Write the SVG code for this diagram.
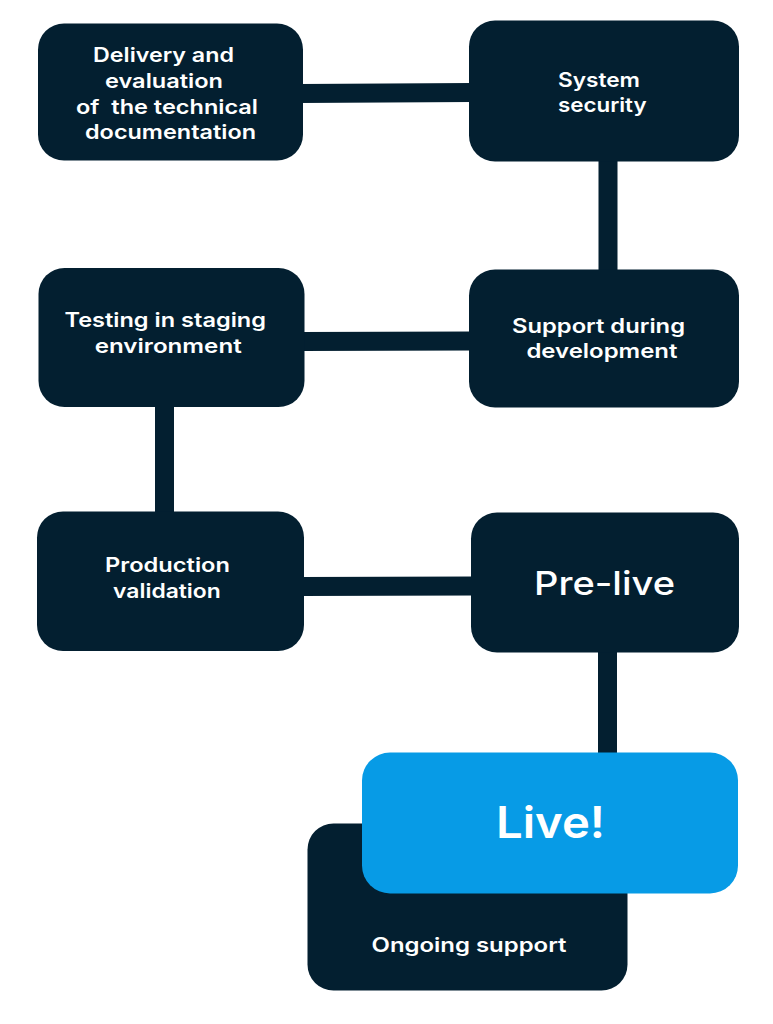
<svg xmlns="http://www.w3.org/2000/svg" width="773" height="1024" viewBox="0 0 773 1024">
  <style>
    .box { fill: #031f30; }
    .live { fill: #079be6; }
    .conn { stroke: #031f30; stroke-width: 19; fill: none; }
    .t { fill: #ffffff; font-family: Inter, "Open Sans", "Liberation Sans", sans-serif; font-weight: 600; font-size: 20px; text-anchor: middle; }
    .big { font-size: 33px; font-weight: 500; }
    .huge { font-size: 44px; font-weight: 600; }
  </style>
  <rect width="773" height="1024" fill="#ffffff"/>
  <g id="connectors">
    <line class="conn" x1="300" y1="93.5" x2="472" y2="92.5"/>
    <line class="conn" x1="608" y1="158" x2="608" y2="273"/>
    <line class="conn" x1="301" y1="341.5" x2="472" y2="341"/>
    <line class="conn" x1="164.5" y1="403" x2="164.5" y2="515"/>
    <line class="conn" x1="301" y1="586.5" x2="474" y2="586"/>
    <line class="conn" x1="607.5" y1="649" x2="607.5" y2="756"/>
  </g>
  <g id="delivery">
    <rect class="box" x="38" y="23.5" width="265" height="137" rx="26"/>
    <text class="t" x="163.5" y="61.5" textLength="141" lengthAdjust="spacingAndGlyphs">Delivery and</text>
    <text class="t" x="164" y="87.5" textLength="118" lengthAdjust="spacingAndGlyphs">evaluation</text>
    <text class="t" x="167" y="113.5" textLength="182" lengthAdjust="spacingAndGlyphs" xml:space="preserve">of  the technical</text>
    <text class="t" x="170.5" y="139" textLength="171" lengthAdjust="spacingAndGlyphs">documentation</text>
  </g>
  <g id="system-security">
    <rect class="box" x="469" y="20.5" width="270" height="141" rx="26"/>
    <text class="t" x="599" y="87.3" textLength="82" lengthAdjust="spacingAndGlyphs">System</text>
    <text class="t" x="602.3" y="111.7" textLength="88.7" lengthAdjust="spacingAndGlyphs">security</text>
  </g>
  <g id="testing">
    <rect class="box" x="38.5" y="268" width="266" height="139" rx="26"/>
    <text class="t" x="165.2" y="326.7" textLength="201.5" lengthAdjust="spacingAndGlyphs">Testing in staging</text>
    <text class="t" x="168.2" y="353" textLength="147" lengthAdjust="spacingAndGlyphs">environment</text>
  </g>
  <g id="support-development">
    <rect class="box" x="469" y="269.5" width="270" height="138" rx="26"/>
    <text class="t" x="598.5" y="332.7" textLength="173" lengthAdjust="spacingAndGlyphs">Support during</text>
    <text class="t" x="601.9" y="358" textLength="151" lengthAdjust="spacingAndGlyphs">development</text>
  </g>
  <g id="production">
    <rect class="box" x="37" y="511.5" width="267" height="139.5" rx="26"/>
    <text class="t" x="167.5" y="572.3" textLength="125" lengthAdjust="spacingAndGlyphs">Production</text>
    <text class="t" x="166.9" y="598" textLength="107.7" lengthAdjust="spacingAndGlyphs">validation</text>
  </g>
  <g id="pre-live">
    <rect class="box" x="471" y="512.5" width="268" height="140" rx="26"/>
    <text class="t big" x="604.5" y="595" textLength="141" lengthAdjust="spacingAndGlyphs">Pre-live</text>
  </g>
  <g id="ongoing-support">
    <rect class="box" x="307.5" y="823.5" width="320" height="167" rx="26"/>
    <text class="t" x="469" y="951.7" textLength="195" lengthAdjust="spacingAndGlyphs">Ongoing support</text>
  </g>
  <g id="live">
    <rect class="live" x="362" y="752.5" width="376" height="141" rx="28"/>
    <text class="t huge" x="550.5" y="838" textLength="109" lengthAdjust="spacingAndGlyphs">Live!</text>
  </g>
</svg>
